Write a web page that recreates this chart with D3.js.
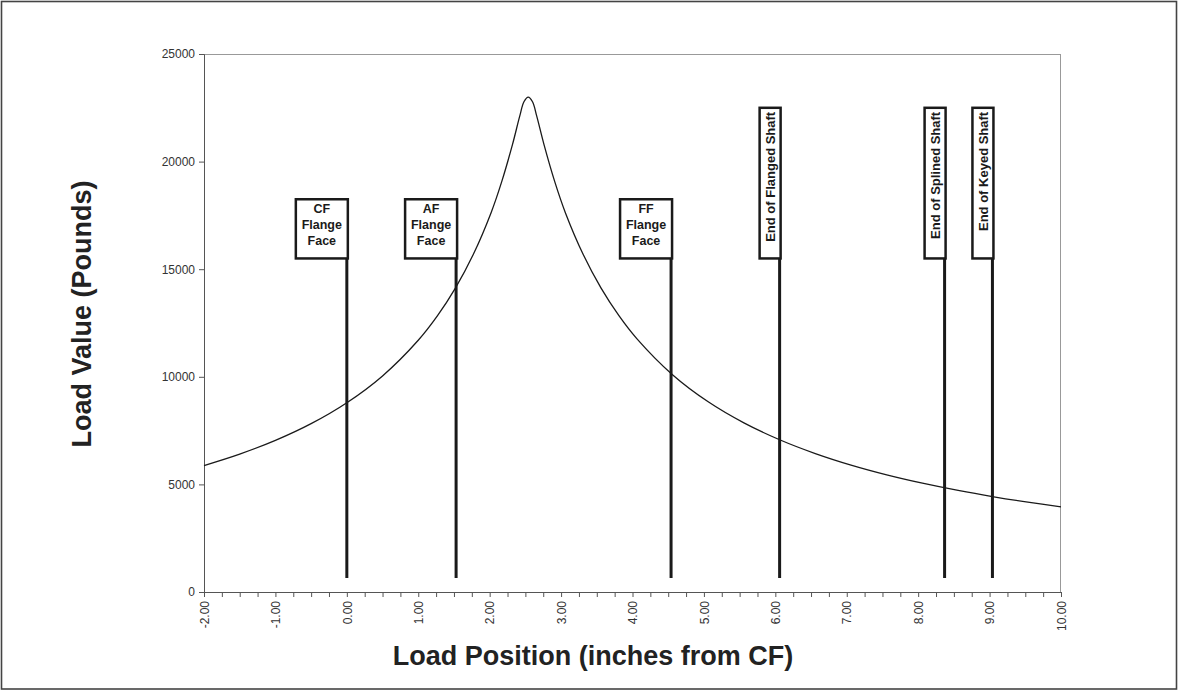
<!DOCTYPE html>
<html>
<head>
<meta charset="utf-8">
<script src="https://cdn.jsdelivr.net/npm/d3@7"></script>
<style>
  html, body { margin: 0; padding: 0; background: #fff; }
  svg { display: block; font-family: "Liberation Sans", Arial, Helvetica, sans-serif; }
</style>
</head>
<body>
<svg id="chart" width="1178" height="692"></svg>
<script>
// ---- data ----
const positions = [-2.0, -1.5, -1.0, -0.5, 0.0, 0.5, 1.0, 1.27, 1.52, 1.77, 2.02, 2.17, 2.32, 2.42, 2.48, 2.54, 2.60, 2.66, 2.76, 2.91, 3.06, 3.31, 3.56, 3.81, 4.06, 4.56, 5.06, 5.56, 6.06, 6.56, 7.06, 7.56, 8.06, 8.56, 9.06, 9.56, 10.0];
const loads     = [5877, 6409, 7046, 7824, 8796, 10042, 11699, 12843, 14122, 15682, 17626, 19080, 20800, 22100, 22780, 23000, 22780, 22100, 20800, 19080, 17626, 15682, 14122, 12843, 11776, 10098, 8838, 7859, 7074, 6432, 5896, 5443, 5055, 4718, 4424, 4164, 3959];

const markerNames = ["CF Flange Face", "AF Flange Face", "FF Flange Face", "End of Flanged Shaft", "End of Splined Shaft", "End of Keyed Shaft"];
const markerPositions = [0.0, 1.53, 4.54, 6.06, 8.37, 9.04];
const markerLines = [["CF", "Flange", "Face"], ["AF", "Flange", "Face"], ["FF", "Flange", "Face"], ["End of Flanged Shaft"], ["End of Splined Shaft"], ["End of Keyed Shaft"]];
const markerVertical = [false, false, false, true, true, true];

const xTickValues = [-2, -1, 0, 1, 2, 3, 4, 5, 6, 7, 8, 9, 10];
const yTickValues = [0, 5000, 10000, 15000, 20000, 25000];

const xTitle = "Load Position (inches from CF)";
const yTitle = "Load Value (Pounds)";

// ---- layout ----
const svg = d3.select("#chart");
const W = 1178, H = 692;
const plot = { left: 204, top: 54, right: 1061, bottom: 592 };

const x = d3.scaleLinear().domain([-2, 10]).range([plot.left, plot.right]);
const y = d3.scaleLinear().domain([0, 25000]).range([plot.bottom, plot.top]);

const locale = d3.formatLocale({ decimal: ".", thousands: ",", grouping: [3], currency: ["$", ""], minus: "-" });

// outer frame
svg.append("rect").attr("x", 1.5).attr("y", 1.5).attr("width", W - 3).attr("height", H - 4.5)
  .attr("fill", "none").attr("stroke", "#444").attr("stroke-width", 1.6);

// plot frame (top/right light)
svg.append("line").attr("x1", plot.left).attr("x2", plot.right).attr("y1", plot.top + 0.5).attr("y2", plot.top + 0.5)
  .attr("stroke", "#999").attr("stroke-width", 1);
svg.append("line").attr("x1", plot.right - 0.5).attr("x2", plot.right - 0.5).attr("y1", plot.top).attr("y2", plot.bottom)
  .attr("stroke", "#999").attr("stroke-width", 1);

// x axis
const xMinorTicks = d3.range(-2, 10.001, 0.25);
const xAxis = d3.axisBottom(x).tickValues(xMinorTicks).tickSize(5).tickFormat(() => "");
const gx = svg.append("g").attr("transform", `translate(0,${plot.bottom})`).call(xAxis);
gx.select(".domain").attr("stroke", "#555");
gx.selectAll(".tick line").attr("stroke", "#555");

const gxl = svg.append("g").attr("transform", `translate(0,${plot.bottom})`)
  .call(d3.axisBottom(x).tickValues(xTickValues).tickSize(0).tickFormat(locale.format(".2f")));
gxl.select(".domain").remove();
gxl.selectAll(".tick text")
  .attr("transform", "rotate(-90)")
  .attr("text-anchor", "end")
  .attr("x", -9)
  .attr("y", 0)
  .attr("dy", "0.35em")
  .attr("fill", "#333")
  .style("font-size", "12px")
  .style("font-family", "'Liberation Sans', Arial, sans-serif");

// y axis
const gy = svg.append("g").attr("transform", `translate(${plot.left},0)`)
  .call(d3.axisLeft(y).tickValues(yTickValues).tickSize(5).tickPadding(4).tickFormat(d3.format("d")));
gy.select(".domain").attr("stroke", "#555");
gy.selectAll(".tick line").attr("stroke", "#555");
gy.selectAll(".tick text").attr("fill", "#333")
  .style("font-size", "12px")
  .style("font-family", "'Liberation Sans', Arial, sans-serif");

// titles
svg.append("text").attr("x", 593).attr("y", 665).attr("text-anchor", "middle")
  .attr("font-weight", "bold").attr("font-size", 27).attr("fill", "#222").text(xTitle);
svg.append("text").attr("transform", `translate(91,314) rotate(-90)`)
  .attr("text-anchor", "middle").attr("font-weight", "bold").attr("font-size", 27).attr("fill", "#222").text(yTitle);

// curve
const pts = positions.map((p, i) => [p, loads[i]]);
const line = d3.line().x(d => x(d[0])).y(d => y(d[1])).curve(d3.curveCatmullRom.alpha(0.5));
svg.append("path").datum(pts).attr("d", line).attr("fill", "none")
  .attr("stroke", "#1a1a1a").attr("stroke-width", 1.3);

// markers
const LINE_BOTTOM = 650, BOX_BOTTOM = 15500, BOX_TOP_H = 18250, BOX_TOP_V = 22500;
const mg = svg.append("g");
markerPositions.forEach((p, i) => {
  const lx = x(p);
  const vert = markerVertical[i];
  const bw = vert ? 21 : 52;
  const yTop = y(vert ? BOX_TOP_V : BOX_TOP_H);
  const yBot = y(BOX_BOTTOM);
  mg.append("line").attr("x1", lx).attr("x2", lx).attr("y1", y(LINE_BOTTOM)).attr("y2", yBot)
    .attr("stroke", "#1a1a1a").attr("stroke-width", 3);
  const bx = lx + 1 - bw;
  mg.append("rect").attr("x", bx).attr("y", yTop).attr("width", bw).attr("height", yBot - yTop)
    .attr("fill", "#fff").attr("stroke", "#1a1a1a").attr("stroke-width", 2.5);
  const cx = bx + bw / 2;
  if (vert) {
    mg.append("text").attr("transform", `translate(${cx},${yTop + 4}) rotate(-90)`)
      .attr("text-anchor", "end").attr("dy", "0.36em")
      .attr("font-weight", "bold").attr("font-size", 13).attr("fill", "#1a1a1a")
      .text(markerLines[i][0]);
  } else {
    markerLines[i].forEach((t, k) => {
      mg.append("text").attr("x", cx).attr("y", yTop + 14 + k * 16)
        .attr("text-anchor", "middle").attr("font-weight", "bold").attr("font-size", 12.5)
        .attr("fill", "#1a1a1a").text(t);
    });
  }
});
</script>
</body>
</html>
